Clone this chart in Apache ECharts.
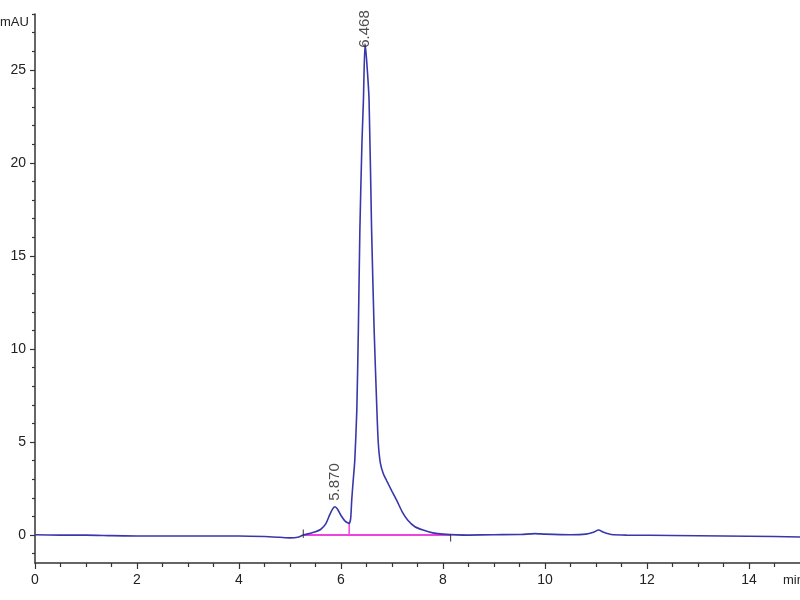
<!DOCTYPE html>
<html>
<head>
<meta charset="utf-8">
<script src="https://cdn.jsdelivr.net/npm/echarts@6/dist/echarts.min.js"></script>
<style>html,body{margin:0;padding:0;background:#fff}#c{width:800px;height:600px}</style>
</head>
<body>
<div id="c"></div>
<script>
// Chromatogram data (time in min, signal in mAU)
const times = [0, 0.5, 1.0, 1.5, 2.0, 2.5, 3.0, 3.5, 4.0, 4.5, 4.8, 5.0, 5.15, 5.26, 5.4, 5.5, 5.6, 5.7, 5.78, 5.84, 5.88, 5.93, 6.0, 6.08, 6.16, 6.19, 6.21, 6.24, 6.27, 6.31, 6.34, 6.37, 6.41, 6.44, 6.47, 6.50, 6.55, 6.60, 6.65, 6.70, 6.73, 6.77, 6.83, 6.90, 7.0, 7.09, 7.2, 7.31, 7.45, 7.61, 7.8, 8.0, 8.5, 9.0, 9.5, 9.8, 10.0, 10.5, 10.8, 10.95, 11.05, 11.15, 11.3, 11.6, 12.5, 13.5, 14.5, 15.0];
const signal = [0.02, 0.0, 0.0, -0.03, -0.05, -0.05, -0.05, -0.05, -0.05, -0.08, -0.12, -0.15, -0.12, 0.0, 0.1, 0.18, 0.3, 0.6, 1.1, 1.42, 1.52, 1.4, 1.05, 0.75, 0.63, 0.9, 1.88, 2.96, 4.0, 6.7, 11.0, 16.4, 21.0, 23.4, 26.4, 25.6, 23.4, 16.4, 11.0, 7.0, 5.0, 3.9, 3.3, 2.9, 2.35, 1.88, 1.25, 0.8, 0.45, 0.27, 0.12, 0.05, 0.0, 0.02, 0.03, 0.08, 0.05, 0.02, 0.05, 0.15, 0.27, 0.15, 0.03, 0.0, -0.02, -0.05, -0.08, -0.1];

// Integration baseline and peak marks
const baselineTimes = [5.26, 8.15];
const baselineValues = [0.0, 0.0];
const dropTimes = [6.16, 6.16];
const dropValues = [0.0, 0.63];
const startTickValues = [-0.15, 0.3];
const endTickValues = [-0.35, 0.05];
const peakTimes = [5.870, 6.468];
const peakHeights = [1.52, 26.4];
const peakNames = ["5.870", "6.468"];

// Axis ticks
const xMajor = [0, 2, 4, 6, 8, 10, 12, 14];
const xMinor = [0.5, 1, 1.5, 2.5, 3, 3.5, 4.5, 5, 5.5, 6.5, 7, 7.5, 8.5, 9, 9.5, 10.5, 11, 11.5, 12.5, 13, 13.5, 14.5];
const yMajor = [0, 5, 10, 15, 20, 25];
const yMinor = [-1, 1, 2, 3, 4, 6, 7, 8, 9, 11, 12, 13, 14, 16, 17, 18, 19, 21, 22, 23, 24, 26, 27, 28];

const pair = (xs, ys) => xs.map((x, i) => [x, ys[i]]);
const axisColor = '#333';
const fam = '"Liberation Sans", Arial, sans-serif';
const labelFont = {fontFamily: fam, fontSize: 14, color: '#222'};

const chart = echarts.init(document.getElementById('c'));
chart.setOption({
  animation: false,
  backgroundColor: '#fff',
  grid: {left: 35, right: 0, top: 14, bottom: 37, containLabel: false},
  xAxis: [
    {type: 'value', min: 0, max: 15,
     axisLine: {show: true, onZero: false, lineStyle: {color: axisColor, width: 1.5}},
     axisTick: {show: true, length: 6, customValues: xMajor, lineStyle: {color: axisColor, width: 1.2}},
     axisLabel: Object.assign({margin: 10, customValues: xMajor}, labelFont),
     splitLine: {show: false}},
    {type: 'value', min: 0, max: 15, position: 'bottom',
     axisLine: {show: false, onZero: false},
     axisTick: {show: true, length: 4, customValues: xMinor, lineStyle: {color: axisColor, width: 1.2}},
     axisLabel: {show: false}, splitLine: {show: false}}
  ],
  yAxis: [
    {type: 'value', min: -1.5, max: 28,
     axisLine: {show: true, onZero: false, lineStyle: {color: axisColor, width: 1.5}},
     axisTick: {show: true, length: 5, customValues: yMajor, lineStyle: {color: axisColor, width: 1.2}},
     axisLabel: Object.assign({margin: 9, customValues: yMajor}, labelFont),
     splitLine: {show: false}},
    {type: 'value', min: -1.5, max: 28, position: 'left',
     axisLine: {show: false, onZero: false},
     axisTick: {show: true, length: 3, customValues: yMinor, lineStyle: {color: axisColor, width: 1.2}},
     axisLabel: {show: false}, splitLine: {show: false}}
  ],
  graphic: [
    {type: 'text', left: 0, top: 16, style: {text: 'mAU', fill: '#222', font: '13px ' + fam}},
    {type: 'text', left: 783, top: 574, style: {text: 'min', fill: '#222', font: '13px ' + fam}}
  ],
  series: [
    {type: 'line', data: pair(baselineTimes, baselineValues), symbol: 'none', lineStyle: {color: '#ee44dd', width: 2}, z: 2},
    {type: 'line', data: pair(dropTimes, dropValues), symbol: 'none', lineStyle: {color: '#ee44dd', width: 1.5}, z: 2},
    {type: 'line', data: pair([baselineTimes[0], baselineTimes[0]], startTickValues), symbol: 'none', lineStyle: {color: '#333', width: 1}, z: 4},
    {type: 'line', data: pair([baselineTimes[1], baselineTimes[1]], endTickValues), symbol: 'none', lineStyle: {color: '#333', width: 1}, z: 4},
    {type: 'line', data: pair(times, signal), symbol: 'none', smooth: 0.2, lineStyle: {color: '#3838aa', width: 1.6}, z: 3},
    {type: 'scatter', symbolSize: 0, z: 5,
     data: pair(peakTimes, peakHeights).map((v, i) => ({value: v, label: {distance: i === 1 ? -6 : 4}})),
     label: {show: true, position: 'top', rotate: 90, align: 'left', verticalAlign: 'middle', offset: [2, 0],
       formatter: p => peakNames[p.dataIndex],
       fontFamily: fam, fontSize: 15, color: '#222'}}
  ]
});
</script>
</body>
</html>
